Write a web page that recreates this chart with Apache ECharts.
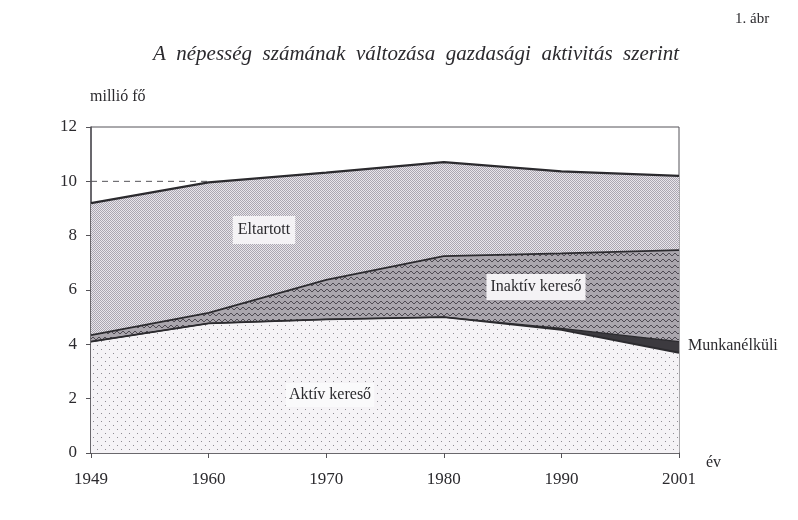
<!DOCTYPE html>
<html lang="hu">
<head>
    <meta charset="UTF-8">
    <title>A népesség számának változása gazdasági aktivitás szerint</title>
    <script src="https://cdn.jsdelivr.net/npm/echarts@6/dist/echarts.min.js"></script>
    <style>
        html, body { margin: 0; padding: 0; background: #ffffff; }
        #chart { width: 798px; height: 520px; }
    </style>
</head>
<body>
    <div id="chart"></div>

    <script>
        // adatok (millió fő)
        const years = ['1949', '1960', '1970', '1980', '1990', '2001'];
        const aktiv = [4.10, 4.77, 4.92, 5.00, 4.53, 3.69];
        const munkanelkuli = [0, 0, 0, 0, 0.06, 0.41];
        const inaktiv = [0.24, 0.39, 1.45, 2.25, 2.76, 3.37];
        const eltartott = [4.86, 4.80, 3.95, 3.46, 3.02, 2.73];
        const refLine = [10, 10, null, null, null, null];
        const yTicks = [0, 2, 4, 6, 8, 10, 12];

        const serif = '"Liberation Serif", "DejaVu Serif", serif';
        const ink = '#2b2a2e';

        // kis mintázott csempék a kitöltéshez
        function tile(size, bg, draw) {
            const c = document.createElement('canvas');
            c.width = size; c.height = size;
            const ctx = c.getContext('2d');
            ctx.fillStyle = bg;
            ctx.fillRect(0, 0, size, size);
            draw(ctx);
            return c;
        }

        const eltartottTile = tile(2, '#e8e5eb', ctx => {
            ctx.fillStyle = '#aaa6b0';
            ctx.fillRect(0, 0, 1, 1);
            ctx.fillRect(1, 1, 1, 1);
        });

        const inaktivTile = tile(6, '#aaa6ad', ctx => {
            ctx.strokeStyle = '#4e4a52';
            ctx.lineWidth = 1;
            ctx.beginPath();
            ctx.moveTo(0, 4); ctx.lineTo(3, 1); ctx.lineTo(6, 4);
            ctx.stroke();
        });

        const aktivTile = tile(8, '#f5f3f6', ctx => {
            ctx.fillStyle = '#8e8b92';
            ctx.fillRect(1, 1, 1, 1);
            ctx.fillRect(5, 5, 1, 1);
        });

        const chart = echarts.init(document.getElementById('chart'), null, { renderer: 'canvas' });

        function areaSeries(name, data, fill, lineW) {
            return {
                name: name,
                type: 'line',
                stack: 'nep',
                data: data,
                symbol: 'none',
                smooth: false,
                lineStyle: { color: ink, width: lineW },
                areaStyle: { color: fill, opacity: 1 },
                z: 2
            };
        }

        const option = {
            animation: false,
            backgroundColor: '#ffffff',
            grid: {
                left: 91, right: 119, top: 127, bottom: 67,
                show: true, borderColor: '#555358', borderWidth: 1,
                backgroundColor: 'transparent'
            },
            xAxis: {
                type: 'category',
                data: years,
                boundaryGap: false,
                axisLine: { lineStyle: { color: '#555358', width: 1.5 } },
                axisTick: { show: true, length: 5, lineStyle: { color: '#555358' } },
                axisLabel: { color: ink, fontFamily: serif, fontSize: 17, margin: 18 },
                splitLine: { show: false }
            },
            yAxis: {
                type: 'value',
                min: yTicks[0],
                max: yTicks[yTicks.length - 1],
                interval: 2,
                axisLine: { show: true, lineStyle: { color: '#555358', width: 1.5 } },
                axisTick: { show: true, length: 5, lineStyle: { color: '#555358' } },
                axisLabel: { color: ink, fontFamily: serif, fontSize: 17, margin: 14 },
                splitLine: { show: false }
            },
            series: [
                areaSeries('Aktív kereső', aktiv, { image: aktivTile, repeat: 'repeat' }, 1.8),
                areaSeries('Munkanélküli', munkanelkuli, '#3c3a3f', 1.2),
                areaSeries('Inaktív kereső', inaktiv, { image: inaktivTile, repeat: 'repeat' }, 1.8),
                areaSeries('Eltartott', eltartott, { image: eltartottTile, repeat: 'repeat' }, 2.2),
                {
                    name: 'ref',
                    type: 'line',
                    data: refLine,
                    symbol: 'none',
                    connectNulls: false,
                    lineStyle: { color: '#555358', width: 1, type: [6, 5] },
                    z: 1
                }
            ],
            graphic: [
                {
                    type: 'text', left: 735, top: 12,
                    style: { text: '1. ábr', font: '15px ' + serif, fill: ink }
                },
                {
                    type: 'text', x: 416, y: 54,
                    style: {
                        text: 'A  népesség  számának  változása  gazdasági  aktivitás  szerint',
                        font: 'italic 21px ' + serif, fill: ink,
                        textAlign: 'center', textVerticalAlign: 'middle'
                    }
                },
                {
                    type: 'text', x: 90, y: 97,
                    style: { text: 'millió fő', font: '16px ' + serif, fill: ink, textVerticalAlign: 'middle' }
                },
                {
                    type: 'text', x: 264, y: 230, z: 10,
                    style: {
                        text: 'Eltartott', font: '16px ' + serif, fill: ink,
                        textAlign: 'center', textVerticalAlign: 'middle',
                        backgroundColor: '#f4f2f5', padding: [6, 5]
                    }
                },
                {
                    type: 'text', x: 536, y: 287, z: 10,
                    style: {
                        text: 'Inaktív kereső', font: '16px ' + serif, fill: ink,
                        textAlign: 'center', textVerticalAlign: 'middle',
                        backgroundColor: '#f4f2f5', padding: [5, 4]
                    }
                },
                {
                    type: 'text', x: 330, y: 395, z: 10,
                    style: {
                        text: 'Aktív kereső', font: '16px ' + serif, fill: ink,
                        textAlign: 'center', textVerticalAlign: 'middle',
                        backgroundColor: '#fafafb', padding: [4, 3]
                    }
                },
                {
                    type: 'text', x: 688, y: 346,
                    style: { text: 'Munkanélküli', font: '16px ' + serif, fill: ink, textVerticalAlign: 'middle' }
                },
                {
                    type: 'text', x: 706, y: 463,
                    style: { text: 'év', font: '16px ' + serif, fill: ink, textVerticalAlign: 'middle' }
                }
            ]
        };

        chart.setOption(option);

        window.onresize = function() {
            chart.resize();
        };
    </script>
</body>
</html>
